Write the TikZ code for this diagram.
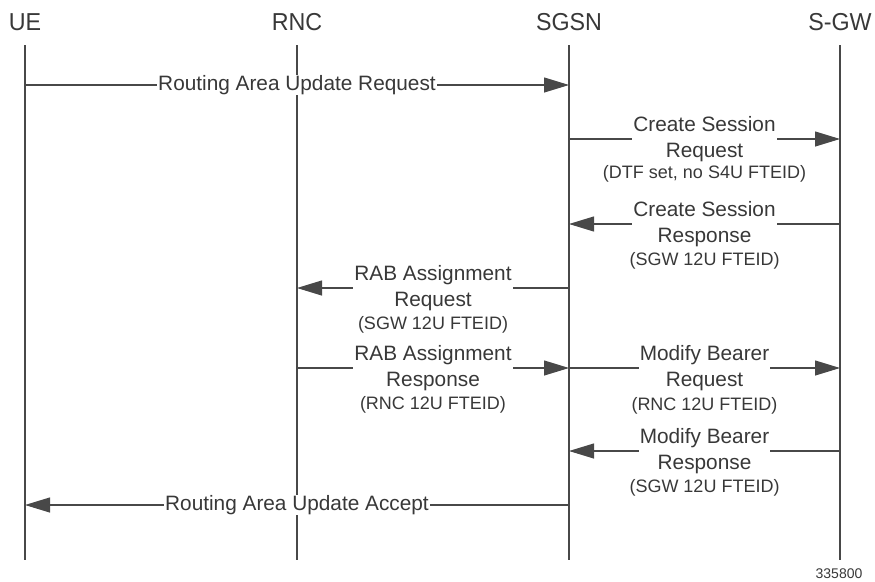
\documentclass[tikz,border=0pt]{standalone}
\usepackage{fontspec}
\setmainfont{Liberation Sans}
\newfontfamily\headfont[FakeStretch=0.95]{Liberation Sans}
\usetikzlibrary{arrows.meta}
\definecolor{ink}{HTML}{383838}
\definecolor{wire}{HTML}{484848}
\begin{document}
\begin{tikzpicture}[x=1pt,y=-1pt,
  head/.style={font=\headfont\fontsize{24.5}{28}\selectfont, text=ink, inner sep=0pt},
  life/.style={draw=wire, line width=1.1pt},
  msg/.style={draw=wire, line width=1.1pt, -{Triangle[length=25pt,width=15pt]}},
  lbl/.style={fill=white, inner xsep=1pt, inner ysep=0pt, align=center, text=ink,
    font=\fontsize{20.8}{26}\selectfont},
  sub/.style={text=ink, inner sep=0pt, font=\fontsize{18}{22}\selectfont}]
\useasboundingbox (0,0) rectangle (875,581);
% lifelines
\node[head] (ue) at (25,22) {UE};
\node[head] (rnc) at (297,22) {RNC};
\node[head] (sgsn) at (569,22) {SGSN};
\node[head] (sgw) at (840,22) {S-GW};
\coordinate (ueT) at (25,45);   \coordinate (ueB) at (25,560);
\coordinate (rncT) at (297,45); \coordinate (rncB) at (297,560);
\coordinate (sgsnT) at (569,45);\coordinate (sgsnB) at (569,560);
\coordinate (sgwT) at (840,45); \coordinate (sgwB) at (840,560);
\draw[life] (ueT) -- (ueB);
\draw[life] (rncT) -- (rncB);
\draw[life] (sgsnT) -- (sgsnB);
\draw[life] (sgwT) -- (sgwB);
% message end points
\coordinate (m1a) at (25,85);   \coordinate (m1b) at (569,85);
\coordinate (m2a) at (569,139); \coordinate (m2b) at (840,139);
\coordinate (m3a) at (840,224); \coordinate (m3b) at (569,224);
\coordinate (m4a) at (569,288); \coordinate (m4b) at (297,288);
\coordinate (m5a) at (297,368); \coordinate (m5b) at (569,368);
\coordinate (m6a) at (569,368); \coordinate (m6b) at (840,368);
\coordinate (m7a) at (840,451); \coordinate (m7b) at (569,451);
\coordinate (m8a) at (569,505); \coordinate (m8b) at (25,505);
% messages
\draw[msg] (m1a) -- (m1b) node[lbl, midway] (l1) {Routing Area Update Request};
\draw[msg] (m2a) -- (m2b) node[lbl, midway] (l2) {Create Session\\Request}
  node[sub, midway, yshift=-35pt] (s2) {(DTF set, no S4U FTEID)};
\draw[msg] (m3a) -- (m3b) node[lbl, midway] (l3) {Create Session\\Response}
  node[sub, midway, yshift=-37pt] (s3) {(SGW 12U FTEID)};
\draw[msg] (m4a) -- (m4b) node[lbl, midway] (l4) {RAB Assignment\\Request}
  node[sub, midway, yshift=-37pt] (s4) {(SGW 12U FTEID)};
\draw[msg] (m5a) -- (m5b) node[lbl, midway] (l5) {RAB Assignment\\Response}
  node[sub, midway, yshift=-37pt] (s5) {(RNC 12U FTEID)};
\draw[msg] (m6a) -- (m6b) node[lbl, midway] (l6) {Modify Bearer\\Request}
  node[sub, midway, yshift=-38pt] (s6) {(RNC 12U FTEID)};
\draw[msg] (m7a) -- (m7b) node[lbl, midway] (l7) {Modify Bearer\\Response}
  node[sub, midway, yshift=-37pt] (s7) {(SGW 12U FTEID)};
\draw[msg] (m8a) -- (m8b) node[lbl, midway] (l8) {Routing Area Update Accept};
\node[text=ink, inner sep=0pt, font=\fontsize{14}{16}\selectfont] (fig) at (839,574) {335800};
\end{tikzpicture}
\end{document}
